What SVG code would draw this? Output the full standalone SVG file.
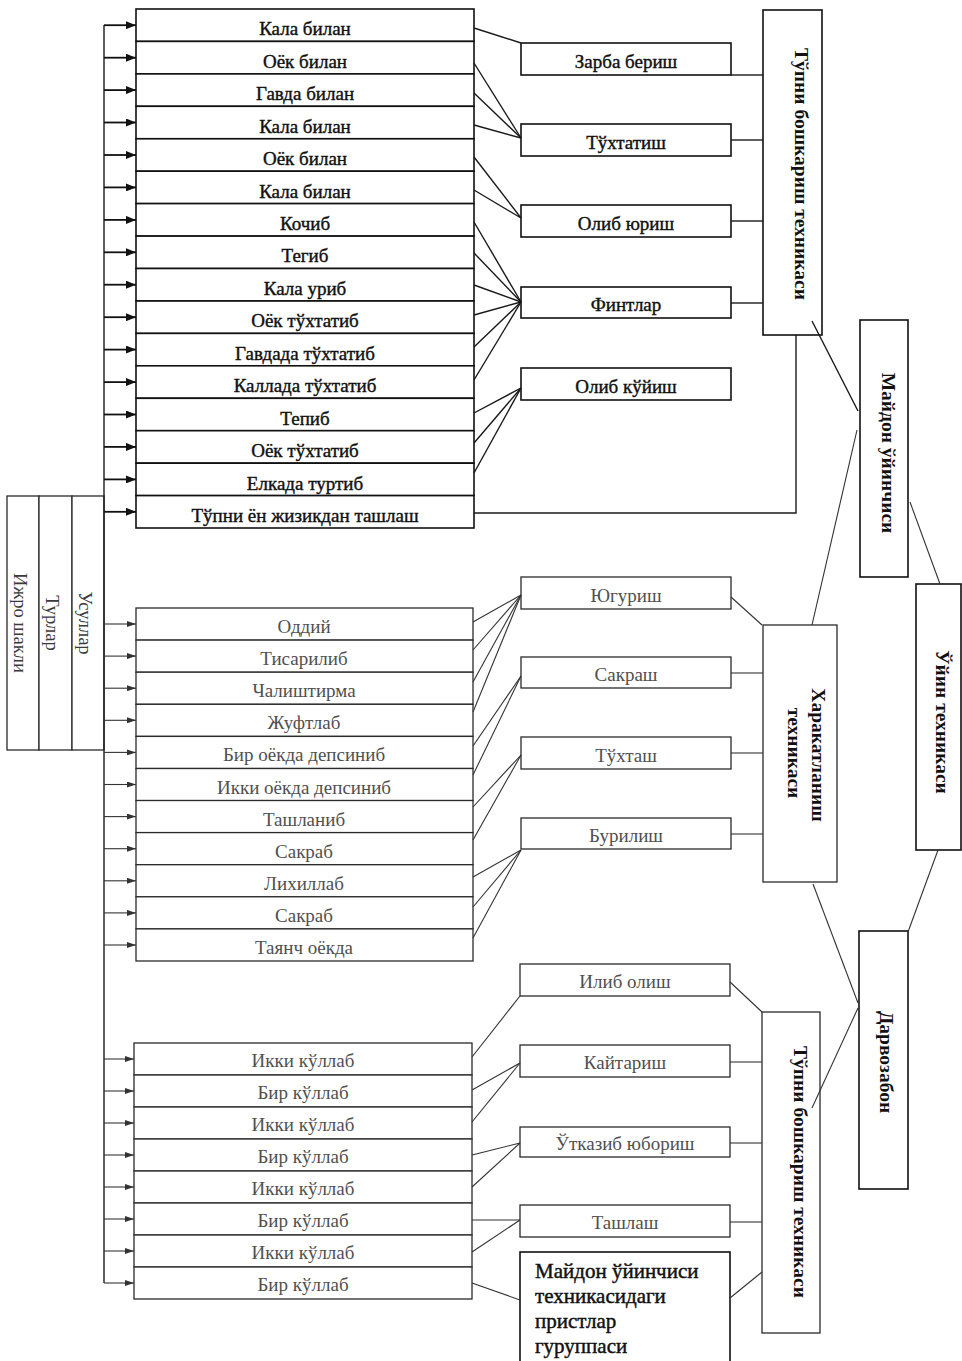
<svg xmlns="http://www.w3.org/2000/svg" width="962" height="1361" viewBox="0 0 962 1361">
  <style>
    .bg{fill:#fff}
    .row{fill:#fff;stroke:#111;stroke-width:1.6}
    .row2{fill:#fff;stroke:#2a2a2a;stroke-width:1.3}
    .box{fill:#fff;stroke:#111;stroke-width:1.6}
    .box2{fill:#fff;stroke:#2a2a2a;stroke-width:1.3}
    .t{font-family:"Liberation Serif","DejaVu Serif",serif;font-size:19px;text-anchor:middle;fill:#111;stroke:#111;stroke-width:0.4}
    .tg{font-family:"Liberation Serif","DejaVu Serif",serif;font-size:19px;text-anchor:middle;fill:#505050}
    .tb{font-family:"Liberation Serif","DejaVu Serif",serif;font-size:19.5px;font-weight:bold;text-anchor:middle;dominant-baseline:central;fill:#111}
    .tv{font-family:"Liberation Serif","DejaVu Serif",serif;font-size:18.5px;text-anchor:middle;dominant-baseline:central;fill:#3a3a3a}
    .tl{font-family:"Liberation Serif","DejaVu Serif",serif;font-size:21px;fill:#111;stroke:#111;stroke-width:0.45}
    .c{fill:none;stroke:#1a1a1a;stroke-width:1.4}
    .c2{fill:none;stroke:#333;stroke-width:1.1}
    .a{stroke:#111;stroke-width:1.8;marker-end:url(#ah)}
    .a2{stroke:#333;stroke-width:1.1;marker-end:url(#ah2)}
  </style>
  <defs>
    <marker id="ah" viewBox="0 0 10 8" refX="10" refY="4" markerWidth="10" markerHeight="8" markerUnits="userSpaceOnUse" orient="auto">
      <path d="M0,0 L10,4 L0,8 z" fill="#111"/>
    </marker>
    <marker id="ah2" viewBox="0 0 9 6" refX="9" refY="3" markerWidth="9" markerHeight="6" markerUnits="userSpaceOnUse" orient="auto">
      <path d="M0,0 L9,3 L0,6 z" fill="#333"/>
    </marker>
  </defs>
  <rect class="bg" x="0" y="0" width="962" height="1361"/>

  <!-- left classification columns -->
  <g id="ijro-shakli"><rect class="box2" x="7" y="496" width="32" height="254"/><text class="tv" transform="translate(20,623) rotate(90)">Ижро шакли</text></g>
  <g id="turlar"><rect class="box2" x="39" y="496" width="33" height="254"/><text class="tv" transform="translate(52,623) rotate(90)">Турлар</text></g>
  <g id="usullar"><rect class="box2" x="72" y="496" width="32" height="254"/><text class="tv" transform="translate(85,623) rotate(90)">Усуллар</text></g>

  <!-- ball control: methods -->
  <g id="ball-r01"><rect class="row" x="136" y="9" width="338" height="32.4"/><text class="t" x="305" y="35.3">Кала билан</text></g>
  <g id="ball-r02"><rect class="row" x="136" y="41.4" width="338" height="32.4"/><text class="t" x="305" y="67.7">Оёк билан</text></g>
  <g id="ball-r03"><rect class="row" x="136" y="73.9" width="338" height="32.4"/><text class="t" x="305" y="100.2">Гавда билан</text></g>
  <g id="ball-r04"><rect class="row" x="136" y="106.3" width="338" height="32.4"/><text class="t" x="305" y="132.6">Кала билан</text></g>
  <g id="ball-r05"><rect class="row" x="136" y="138.8" width="338" height="32.4"/><text class="t" x="305" y="165.1">Оёк билан</text></g>
  <g id="ball-r06"><rect class="row" x="136" y="171.2" width="338" height="32.4"/><text class="t" x="305" y="197.5">Кала билан</text></g>
  <g id="ball-r07"><rect class="row" x="136" y="203.6" width="338" height="32.4"/><text class="t" x="305" y="229.9">Кочиб</text></g>
  <g id="ball-r08"><rect class="row" x="136" y="236.1" width="338" height="32.4"/><text class="t" x="305" y="262.4">Тегиб</text></g>
  <g id="ball-r09"><rect class="row" x="136" y="268.5" width="338" height="32.4"/><text class="t" x="305" y="294.8">Кала уриб</text></g>
  <g id="ball-r10"><rect class="row" x="136" y="301" width="338" height="32.4"/><text class="t" x="305" y="327.3">Оёк тўхтатиб</text></g>
  <g id="ball-r11"><rect class="row" x="136" y="333.4" width="338" height="32.4"/><text class="t" x="305" y="359.7">Гавдада тўхтатиб</text></g>
  <g id="ball-r12"><rect class="row" x="136" y="365.8" width="338" height="32.4"/><text class="t" x="305" y="392.1">Каллада тўхтатиб</text></g>
  <g id="ball-r13"><rect class="row" x="136" y="398.3" width="338" height="32.4"/><text class="t" x="305" y="424.6">Тепиб</text></g>
  <g id="ball-r14"><rect class="row" x="136" y="430.7" width="338" height="32.4"/><text class="t" x="305" y="457">Оёк тўхтатиб</text></g>
  <g id="ball-r15"><rect class="row" x="136" y="463.2" width="338" height="32.4"/><text class="t" x="305" y="489.5">Елкада туртиб</text></g>
  <g id="ball-r16"><rect class="row" x="136" y="495.6" width="338" height="32.4"/><text class="t" x="305" y="521.9">Тўпни ён жизикдан ташлаш</text></g>

  <!-- ball control: types -->
  <g id="zarba"><rect class="box" x="521" y="43" width="210" height="32"/><text class="t" x="626" y="68">Зарба бериш</text></g>
  <g id="tuxtatish"><rect class="box" x="521" y="124" width="210" height="32"/><text class="t" x="626" y="149">Тўхтатиш</text></g>
  <g id="olib-yurish"><rect class="box" x="521" y="205" width="210" height="32"/><text class="t" x="626" y="230">Олиб юриш</text></g>
  <g id="fintlar"><rect class="box" x="521" y="287" width="210" height="31"/><text class="t" x="626" y="311">Финтлар</text></g>
  <g id="olib-kuyish"><rect class="box" x="521" y="368" width="210" height="32"/><text class="t" x="626" y="393">Олиб кўйиш</text></g>

  <g id="ball-control-top"><rect class="box" x="763" y="10" width="59" height="325"/><text class="tb" transform="translate(801,174) rotate(90)">Тўпни бошкариш техникаси</text></g>

  <!-- movement: methods -->
  <g id="move-r01"><rect class="row2" x="136" y="608" width="337" height="32.1"/><text class="tg" x="304" y="633">Оддий</text></g>
  <g id="move-r02"><rect class="row2" x="136" y="640.1" width="337" height="32.1"/><text class="tg" x="304" y="665.1">Тисарилиб</text></g>
  <g id="move-r03"><rect class="row2" x="136" y="672.2" width="337" height="32.1"/><text class="tg" x="304" y="697.2">Чалиштирма</text></g>
  <g id="move-r04"><rect class="row2" x="136" y="704.3" width="337" height="32.1"/><text class="tg" x="304" y="729.3">Жуфтлаб</text></g>
  <g id="move-r05"><rect class="row2" x="136" y="736.4" width="337" height="32.1"/><text class="tg" x="304" y="761.4">Бир оёкда депсиниб</text></g>
  <g id="move-r06"><rect class="row2" x="136" y="768.5" width="337" height="32.1"/><text class="tg" x="304" y="793.5">Икки оёкда депсиниб</text></g>
  <g id="move-r07"><rect class="row2" x="136" y="800.5" width="337" height="32.1"/><text class="tg" x="304" y="825.5">Ташланиб</text></g>
  <g id="move-r08"><rect class="row2" x="136" y="832.6" width="337" height="32.1"/><text class="tg" x="304" y="857.6">Сакраб</text></g>
  <g id="move-r09"><rect class="row2" x="136" y="864.7" width="337" height="32.1"/><text class="tg" x="304" y="889.7">Лихиллаб</text></g>
  <g id="move-r10"><rect class="row2" x="136" y="896.8" width="337" height="32.1"/><text class="tg" x="304" y="921.8">Сакраб</text></g>
  <g id="move-r11"><rect class="row2" x="136" y="928.9" width="337" height="32.1"/><text class="tg" x="304" y="953.9">Таянч оёкда</text></g>

  <!-- movement: types -->
  <g id="yugurish"><rect class="box2" x="521" y="577" width="210" height="32"/><text class="tg" x="626" y="602">Югуриш</text></g>
  <g id="sakrash"><rect class="box2" x="521" y="657" width="210" height="31"/><text class="tg" x="626" y="681">Сакраш</text></g>
  <g id="tuxtash"><rect class="box2" x="521" y="737" width="210" height="32"/><text class="tg" x="626" y="762">Тўхташ</text></g>
  <g id="burilish"><rect class="box2" x="521" y="818" width="210" height="31"/><text class="tg" x="626" y="842">Бурилиш</text></g>

  <g id="movement"><rect class="box2" x="763" y="625" width="74" height="257"/>
    <text class="tb" transform="translate(818,755) rotate(90)">Харакатланиш</text>
    <text class="tb" transform="translate(794,753) rotate(90)">техникаси</text>
  </g>

  <!-- goalkeeper: methods -->
  <g id="gk-r01"><rect class="row2" x="134" y="1043" width="338" height="32"/><text class="tg" x="303" y="1067">Икки кўллаб</text></g>
  <g id="gk-r02"><rect class="row2" x="134" y="1075" width="338" height="32"/><text class="tg" x="303" y="1099">Бир кўллаб</text></g>
  <g id="gk-r03"><rect class="row2" x="134" y="1107" width="338" height="32"/><text class="tg" x="303" y="1131">Икки кўллаб</text></g>
  <g id="gk-r04"><rect class="row2" x="134" y="1139" width="338" height="32"/><text class="tg" x="303" y="1163">Бир кўллаб</text></g>
  <g id="gk-r05"><rect class="row2" x="134" y="1171" width="338" height="32"/><text class="tg" x="303" y="1195">Икки кўллаб</text></g>
  <g id="gk-r06"><rect class="row2" x="134" y="1203" width="338" height="32"/><text class="tg" x="303" y="1227">Бир кўллаб</text></g>
  <g id="gk-r07"><rect class="row2" x="134" y="1235" width="338" height="32"/><text class="tg" x="303" y="1259">Икки кўллаб</text></g>
  <g id="gk-r08"><rect class="row2" x="134" y="1267" width="338" height="32"/><text class="tg" x="303" y="1291">Бир кўллаб</text></g>

  <!-- goalkeeper: types -->
  <g id="ilib-olish"><rect class="box2" x="520" y="964" width="210" height="32"/><text class="tg" x="625" y="988">Илиб олиш</text></g>
  <g id="kaytarish"><rect class="box2" x="520" y="1045" width="210" height="32"/><text class="tg" x="625" y="1069">Кайтариш</text></g>
  <g id="utkazib"><rect class="box2" x="520" y="1127" width="210" height="30"/><text class="tg" x="625" y="1150">Ўтказиб юбориш</text></g>
  <g id="tashlash"><rect class="box2" x="520" y="1205" width="210" height="32"/><text class="tg" x="625" y="1229">Ташлаш</text></g>
  <g id="field-group"><rect class="box" x="520" y="1252" width="210" height="130"/>
    <text class="tl" x="535" y="1278">Майдон ўйинчиси</text>
    <text class="tl" x="535" y="1303">техникасидаги</text>
    <text class="tl" x="535" y="1328">пристлар</text>
    <text class="tl" x="535" y="1353">гуруппаси</text>
  </g>

  <g id="ball-control-gk"><rect class="box2" x="762" y="1012" width="58" height="321"/><text class="tb" transform="translate(800,1172) rotate(90)">Тўпни бошкариш техникаси</text></g>

  <!-- player roles -->
  <g id="field-player"><rect class="box" x="860" y="320" width="48" height="257"/><text class="tb" transform="translate(888,453) rotate(90)">Майдон ўйинчиси</text></g>
  <g id="game-technique"><rect class="box" x="916" y="584" width="45" height="266"/><text class="tb" transform="translate(942,722) rotate(90)">Ўйин техникаси</text></g>
  <g id="goalkeeper"><rect class="box" x="859" y="931" width="49" height="258"/><text class="tb" transform="translate(886,1062) rotate(90)">Дарвозабон</text></g>

  <g id="connectors">
    <!-- feed bus with arrows -->
    <line class="c" x1="104" y1="25" x2="104" y2="1283"/>
    <line class="a" x1="104" y1="25.2" x2="136" y2="25.2"/>
    <line class="a" x1="104" y1="57.7" x2="136" y2="57.7"/>
    <line class="a" x1="104" y1="90.1" x2="136" y2="90.1"/>
    <line class="a" x1="104" y1="122.5" x2="136" y2="122.5"/>
    <line class="a" x1="104" y1="155" x2="136" y2="155"/>
    <line class="a" x1="104" y1="187.4" x2="136" y2="187.4"/>
    <line class="a" x1="104" y1="219.9" x2="136" y2="219.9"/>
    <line class="a" x1="104" y1="252.3" x2="136" y2="252.3"/>
    <line class="a" x1="104" y1="284.7" x2="136" y2="284.7"/>
    <line class="a" x1="104" y1="317.2" x2="136" y2="317.2"/>
    <line class="a" x1="104" y1="349.6" x2="136" y2="349.6"/>
    <line class="a" x1="104" y1="382.1" x2="136" y2="382.1"/>
    <line class="a" x1="104" y1="414.5" x2="136" y2="414.5"/>
    <line class="a" x1="104" y1="446.9" x2="136" y2="446.9"/>
    <line class="a" x1="104" y1="479.4" x2="136" y2="479.4"/>
    <line class="a" x1="104" y1="511.8" x2="136" y2="511.8"/>

    <line class="a2" x1="104" y1="624" x2="136" y2="624"/>
    <line class="a2" x1="104" y1="656.1" x2="136" y2="656.1"/>
    <line class="a2" x1="104" y1="688.2" x2="136" y2="688.2"/>
    <line class="a2" x1="104" y1="720.3" x2="136" y2="720.3"/>
    <line class="a2" x1="104" y1="752.4" x2="136" y2="752.4"/>
    <line class="a2" x1="104" y1="784.5" x2="136" y2="784.5"/>
    <line class="a2" x1="104" y1="816.6" x2="136" y2="816.6"/>
    <line class="a2" x1="104" y1="848.7" x2="136" y2="848.7"/>
    <line class="a2" x1="104" y1="880.8" x2="136" y2="880.8"/>
    <line class="a2" x1="104" y1="912.9" x2="136" y2="912.9"/>
    <line class="a2" x1="104" y1="945" x2="136" y2="945"/>

    <line class="a2" x1="104" y1="1059" x2="134" y2="1059"/>
    <line class="a2" x1="104" y1="1091" x2="134" y2="1091"/>
    <line class="a2" x1="104" y1="1123" x2="134" y2="1123"/>
    <line class="a2" x1="104" y1="1155" x2="134" y2="1155"/>
    <line class="a2" x1="104" y1="1187" x2="134" y2="1187"/>
    <line class="a2" x1="104" y1="1219" x2="134" y2="1219"/>
    <line class="a2" x1="104" y1="1251" x2="134" y2="1251"/>
    <line class="a2" x1="104" y1="1283" x2="134" y2="1283"/>

    <!-- ball control: methods to types -->
    <line class="c" x1="474" y1="28" x2="521" y2="43"/>
    <line class="c" x1="474" y1="63" x2="521" y2="138"/>
    <line class="c" x1="474" y1="93" x2="521" y2="138"/>
    <line class="c" x1="474" y1="125" x2="521" y2="138"/>
    <line class="c" x1="474" y1="157" x2="521" y2="218"/>
    <line class="c" x1="474" y1="190" x2="521" y2="218"/>
    <line class="c" x1="474" y1="222" x2="521" y2="302"/>
    <line class="c" x1="474" y1="253" x2="521" y2="302"/>
    <line class="c" x1="474" y1="285" x2="521" y2="302"/>
    <line class="c" x1="474" y1="315" x2="521" y2="302"/>
    <line class="c" x1="474" y1="347" x2="521" y2="302"/>
    <line class="c" x1="474" y1="380" x2="521" y2="302"/>
    <line class="c" x1="474" y1="413" x2="521" y2="388"/>
    <line class="c" x1="474" y1="443" x2="521" y2="388"/>
    <line class="c" x1="474" y1="473" x2="521" y2="388"/>
    <polyline class="c" points="474,513 796,513 796,335"/>

    <line class="c" x1="731" y1="75" x2="763" y2="75"/>
    <line class="c" x1="731" y1="140" x2="763" y2="140"/>
    <line class="c" x1="731" y1="221" x2="763" y2="221"/>
    <line class="c" x1="731" y1="303" x2="763" y2="303"/>
    <line class="c" x1="812" y1="321" x2="858" y2="411"/>

    <!-- movement: methods to types -->
    <line class="c2" x1="473" y1="622" x2="521" y2="595"/>
    <line class="c2" x1="473" y1="650" x2="521" y2="595"/>
    <line class="c2" x1="473" y1="682" x2="521" y2="595"/>
    <line class="c2" x1="473" y1="712" x2="521" y2="595"/>
    <line class="c2" x1="473" y1="746" x2="521" y2="676"/>
    <line class="c2" x1="473" y1="775" x2="521" y2="676"/>
    <line class="c2" x1="473" y1="807" x2="521" y2="755"/>
    <line class="c2" x1="473" y1="840" x2="521" y2="755"/>
    <line class="c2" x1="473" y1="877" x2="521" y2="850"/>
    <line class="c2" x1="473" y1="907" x2="521" y2="850"/>
    <line class="c2" x1="473" y1="938" x2="521" y2="850"/>

    <line class="c2" x1="731" y1="597" x2="762" y2="625"/>
    <line class="c2" x1="731" y1="673" x2="763" y2="673"/>
    <line class="c2" x1="731" y1="753" x2="763" y2="753"/>
    <line class="c2" x1="731" y1="834" x2="763" y2="834"/>
    <line class="c2" x1="812" y1="625" x2="857" y2="430"/>
    <line class="c2" x1="813" y1="884" x2="858" y2="1003"/>

    <!-- goalkeeper: methods to types -->
    <line class="c2" x1="472" y1="1057" x2="520" y2="996"/>
    <line class="c2" x1="472" y1="1090" x2="520" y2="1063"/>
    <line class="c2" x1="472" y1="1122" x2="520" y2="1063"/>
    <line class="c2" x1="472" y1="1155" x2="520" y2="1143"/>
    <line class="c2" x1="472" y1="1187" x2="520" y2="1143"/>
    <line class="c2" x1="472" y1="1220" x2="520" y2="1220"/>
    <line class="c2" x1="472" y1="1252" x2="520" y2="1220"/>
    <line class="c2" x1="472" y1="1283" x2="520" y2="1300"/>

    <line class="c2" x1="730" y1="982" x2="762" y2="1012"/>
    <line class="c2" x1="730" y1="1062" x2="762" y2="1062"/>
    <line class="c2" x1="730" y1="1143" x2="762" y2="1143"/>
    <line class="c2" x1="730" y1="1222" x2="762" y2="1222"/>
    <line class="c2" x1="730" y1="1298" x2="762" y2="1272"/>
    <line class="c2" x1="858" y1="1008" x2="812" y2="1108"/>

    <!-- roles to game technique -->
    <line class="c2" x1="910" y1="502" x2="940" y2="584"/>
    <line class="c2" x1="938" y1="850" x2="908" y2="932"/>
  </g>
</svg>
